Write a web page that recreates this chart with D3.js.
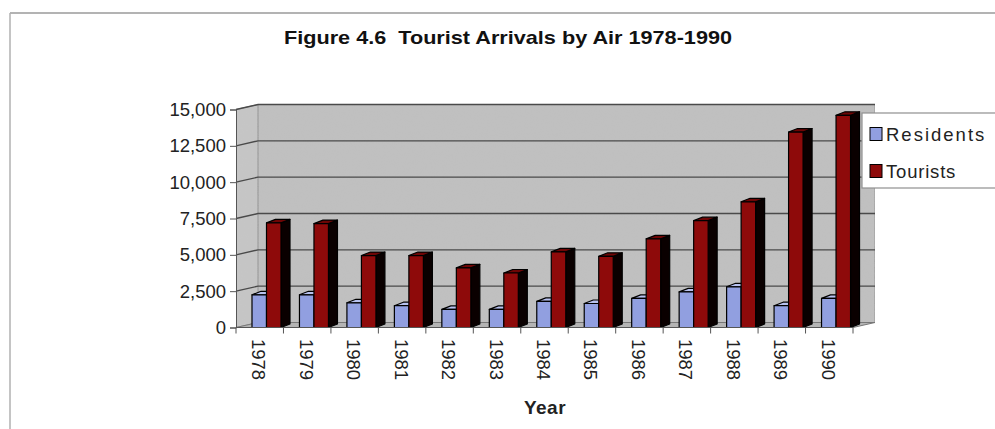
<!DOCTYPE html>
<html>
<head>
<meta charset="utf-8">
<script src="https://cdn.jsdelivr.net/npm/d3@7"></script>
<style>
  html, body { margin: 0; padding: 0; background: #fff; }
  svg { display: block; font-family: "Liberation Sans", Arial, sans-serif; }
</style>
</head>
<body>
<svg id="chart" width="995" height="429"></svg>
<script>
// ---- data ----
const years = ["1978","1979","1980","1981","1982","1983","1984","1985","1986","1987","1988","1989","1990"];
const residents = [2250, 2250, 1700, 1500, 1250, 1250, 1800, 1650, 2000, 2450, 2800, 1500, 2000];
const tourists  = [7200, 7150, 4950, 4950, 4100, 3750, 5200, 4900, 6100, 7350, 8650, 13450, 14600];
const yTicks = [0, 2500, 5000, 7500, 10000, 12500, 15000];
const seriesNames = ["Residents", "Tourists"];
const titleText = "Figure 4.6  Tourist Arrivals by Air 1978-1990";
const xTitle = "Year";

// ---- layout ----
const svg = d3.select("#chart");
const frontL = 236, frontR = 853, baseY = 327.5, topY = 109.5;
const wallDx = 22, wallDy = -5;
const x = d3.scaleBand().domain(years).range([frontL, frontR]).padding(0);
const y = d3.scaleLinear().domain([0, 15000]).range([baseY, topY]);

// outer frame lines
svg.append("line").attr("x1", 10).attr("y1", 13).attr("x2", 995).attr("y2", 13)
  .attr("stroke", "#9a9a9a").attr("stroke-width", 1.5);
svg.append("line").attr("x1", 10).attr("y1", 13).attr("x2", 10).attr("y2", 429)
  .attr("stroke", "#b0b0b0").attr("stroke-width", 1.5);

// title
svg.append("text").attr("x", 508).attr("y", 44).attr("text-anchor", "middle")
  .style("white-space", "pre")
  .attr("font-family", "'Liberation Sans Narrow', 'Arial Narrow', 'Liberation Sans', sans-serif")
  .attr("font-weight", "bold").attr("font-size", 19).attr("fill", "#111")
  .attr("textLength", 448).attr("lengthAdjust", "spacingAndGlyphs")
  .text(titleText);

// noise texture for walls
const defs = svg.append("defs");
const f = defs.append("filter").attr("id", "noise").attr("x", 0).attr("y", 0).attr("width", "100%").attr("height", "100%");
f.append("feTurbulence").attr("type", "fractalNoise").attr("baseFrequency", 0.9).attr("numOctaves", 2).attr("seed", 3).attr("result", "t");
f.append("feColorMatrix").attr("in", "t").attr("type", "matrix")
  .attr("values", "0 0 0 0 0.55  0 0 0 0 0.55  0 0 0 0 0.55  0 0 0 0.35 0").attr("result", "n");
f.append("feComposite").attr("in", "n").attr("in2", "SourceGraphic").attr("operator", "in").attr("result", "nn");
f.append("feMerge").call(m => { m.append("feMergeNode").attr("in", "SourceGraphic"); m.append("feMergeNode").attr("in", "nn"); });

const pts = a => a.map(p => p.join(",")).join(" ");
// back wall
svg.append("polygon")
  .attr("points", pts([[frontL + wallDx, topY + wallDy], [frontR + wallDx, topY + wallDy], [frontR + wallDx, baseY + wallDy], [frontL + wallDx, baseY + wallDy]]))
  .attr("fill", "#bfbfbf").attr("filter", "url(#noise)").attr("stroke", "#8a8a8a").attr("stroke-width", 1);
// left wall
svg.append("polygon")
  .attr("points", pts([[frontL, topY], [frontL + wallDx, topY + wallDy], [frontL + wallDx, baseY + wallDy], [frontL, baseY]]))
  .attr("fill", "#c6c6c6").attr("filter", "url(#noise)").attr("stroke", "#8a8a8a").attr("stroke-width", 1);
// floor
svg.append("polygon")
  .attr("points", pts([[frontL, baseY], [frontL + wallDx, baseY + wallDy], [frontR + wallDx, baseY + wallDy], [frontR, baseY]]))
  .attr("fill", "#b4b4b4").attr("stroke", "#777").attr("stroke-width", 1);

// gridlines
const grid = svg.append("g").attr("stroke", "#4a4a4a").attr("stroke-width", 1.4).attr("fill", "none");
yTicks.forEach(t => {
  if (t === 0) return;
  const yy = y(t);
  grid.append("polyline").attr("points", pts([[frontL, yy], [frontL + wallDx, yy + wallDy], [frontR + wallDx, yy + wallDy]]));
});

// bars
const barDx = 9, barDy = -3.5, barW = 14.5;
const offs = [16, 30.5];
const colors = [
  { front: "#919fe0", side: "#2a2f55", top: "#b8c2f0" },
  { front: "#8e0a0a", side: "#0a0000", top: "#6e0505" }
];
const seriesData = [residents, tourists];
const barsG = svg.append("g");
years.forEach((yr, i) => {
  seriesData.forEach((vals, s) => {
    const x0 = x(yr) + offs[s], x1 = x0 + barW;
    const y0 = baseY, y1 = y(vals[i]);
    const c = colors[s];
    const g = barsG.append("g").attr("stroke", "#000").attr("stroke-width", 1.2).attr("stroke-linejoin", "round");
    g.append("polygon").attr("points", pts([[x1, y1], [x1 + barDx, y1 + barDy], [x1 + barDx, y0 + barDy], [x1, y0]])).attr("fill", c.side);
    g.append("polygon").attr("points", pts([[x0, y1], [x0 + barDx, y1 + barDy], [x1 + barDx, y1 + barDy], [x1, y1]])).attr("fill", c.top);
    g.append("rect").attr("x", x0).attr("y", y1).attr("width", barW).attr("height", y0 - y1).attr("fill", c.front);
  });
});

// y axis
const yAxis = d3.axisLeft(y).tickValues(yTicks).tickFormat(d3.format(",")).tickSize(6).tickPadding(4);
const ya = svg.append("g").attr("transform", `translate(${frontL},0)`).call(yAxis);
ya.select(".domain").attr("stroke", "#555");
ya.selectAll(".tick line").attr("stroke", "#555");
ya.selectAll("text").attr("font-size", 18.5).attr("fill", "#222")
  .attr("font-family", "'Liberation Sans', Arial, sans-serif");

// x axis: front edge, ticks at band boundaries, rotated labels
svg.append("line").attr("x1", frontL).attr("x2", frontR).attr("y1", baseY).attr("y2", baseY).attr("stroke", "#555");
const bounds = years.map(d => x(d)).concat([frontR]);
svg.append("g").selectAll("line").data(bounds).join("line")
  .attr("x1", d => d).attr("x2", d => d).attr("y1", baseY).attr("y2", baseY + 6).attr("stroke", "#555");
svg.append("g").selectAll("text").data(years).join("text")
  .attr("transform", d => `translate(${x(d) + x.bandwidth() / 2 - 1},339) rotate(90)`)
  .attr("dy", "0.35em").attr("font-size", 18.5).attr("fill", "#222")
  .text(d => d);
svg.append("text").attr("x", 545).attr("y", 414).attr("text-anchor", "middle")
  .attr("font-size", 19).attr("font-weight", "bold").attr("fill", "#222").attr("letter-spacing", 0.5)
  .text(xTitle);

// legend
const lg = svg.append("g");
lg.append("rect").attr("x", 862).attr("y", 113).attr("width", 150).attr("height", 75)
  .attr("fill", "#fff").attr("stroke", "#8f8f8f").attr("stroke-width", 1.2);
seriesNames.forEach((n, i) => {
  const cy = [134, 171][i];
  lg.append("rect").attr("x", 870).attr("y", cy - 6.5).attr("width", 12).attr("height", 13)
    .attr("fill", colors[i].front).attr("stroke", "#000").attr("stroke-width", 1);
  lg.append("text").attr("x", 886).attr("y", cy).attr("dy", "0.36em")
    .attr("font-size", 18.5).attr("fill", "#222").attr("letter-spacing", i === 0 ? 2 : 0.8)
    .text(n);
});
</script>
</body>
</html>
